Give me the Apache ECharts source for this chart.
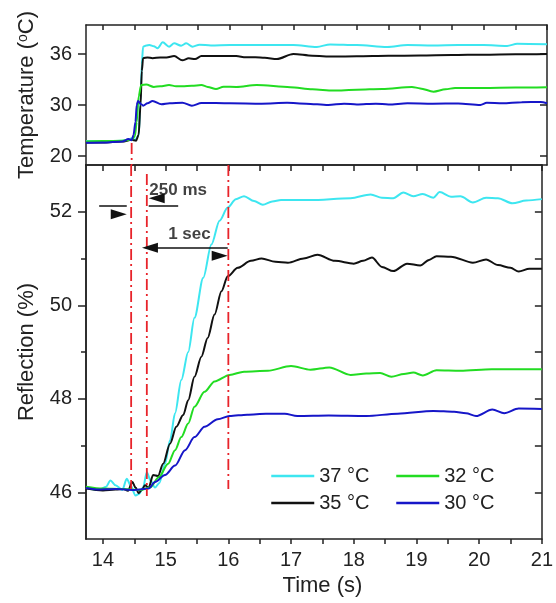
<!DOCTYPE html>
<html>
<head>
<meta charset="utf-8">
<script src="https://cdn.jsdelivr.net/npm/echarts@6/dist/echarts.min.js"></script>
<style>
  html, body { margin: 0; padding: 0; background: #fff; }
  #chart { width: 556px; height: 603px; }
</style>
</head>
<body>
<div id="chart"></div>
<script>
// ---- data ----
const seriesNames = ['37 °C', '35 °C', '32 °C', '30 °C']
const seriesColors = ['#3de6f0', '#111111', '#22dc22', '#1616c8']

// time axis
const timeMin = 13.73
const timeMax = 21
const timeTicks = [14, 14.5, 15, 15.5, 16, 16.5, 17, 17.5, 18, 18.5, 19, 19.5, 20, 20.5, 21]
const timeLabels = [14, 15, 16, 17, 18, 19, 20, 21]

// temperature panel: the printed ticks 20 / 30 / 36 sit at equal spacing
const tempMin = 22.94
const tempMax = 39.41
const tempTickValues = [24, 30, 36]
const tempTickLabels = ['20', '30', '36']

// reflection panel
const reflMin = 45
const reflMax = 53
const reflMajor = [46, 48, 50, 52]
const reflMinor = [47, 49, 51]
const reflRight = [46, 47, 48, 49, 50, 51, 52]

// temperature curves  [time, value]
const temp37 = [[13.73,25.75],[14.0,25.72],[14.3,25.78],[14.4,25.9],[14.45,26.1],[14.5,25.9],[14.56,26.4],[14.59,30.5],[14.61,34.8],[14.63,36.86],[14.68,37.0],[14.73,37.06],[14.8,36.9],[14.86,36.67],[14.94,37.37],[15.04,36.86],[15.12,37.25],[15.23,36.98],[15.31,37.25],[15.41,36.86],[15.52,37.1],[15.7,37.0],[16.0,37.05],[16.5,37.05],[17.0,37.06],[17.37,36.83],[17.58,37.13],[18.0,37.05],[18.48,36.83],[18.8,37.05],[19.2,37.0],[19.6,37.05],[20.0,37.05],[20.37,36.95],[20.53,37.2],[21.0,37.14]]
const temp35 = [[13.73,25.6],[14.0,25.6],[14.3,25.7],[14.45,25.9],[14.52,25.8],[14.56,26.5],[14.59,30],[14.61,34],[14.63,35.5],[14.7,35.6],[14.78,35.5],[14.9,35.6],[15.0,35.6],[15.12,35.76],[15.25,35.25],[15.35,35.5],[15.45,35.4],[15.55,35.76],[15.8,35.76],[16.1,35.76],[16.25,35.61],[16.4,35.62],[16.55,35.55],[16.74,35.41],[17.0,36.0],[17.3,35.8],[17.63,35.69],[18.0,35.72],[18.5,35.78],[19.0,35.83],[19.5,35.88],[20.0,35.92],[20.5,35.96],[21.0,36.0]]
const temp32 = [[13.73,25.7],[14.0,25.75],[14.3,25.8],[14.45,25.9],[14.5,26.3],[14.53,28],[14.56,31],[14.6,32.35],[14.68,32.4],[14.8,32.13],[14.9,32.2],[15.04,32.35],[15.15,32.2],[15.25,32.2],[15.4,32.25],[15.55,32.35],[15.65,32.13],[15.78,31.88],[15.9,32.16],[16.1,32.13],[16.42,32.35],[16.95,32.1],[17.3,31.85],[17.63,31.69],[18.0,31.8],[18.4,31.88],[18.87,32.13],[19.0,31.95],[19.21,31.57],[19.4,31.85],[19.55,32.0],[20.0,32.0],[20.5,32.05],[21.0,32.1]]
const temp30 = [[13.73,25.55],[14.0,25.58],[14.3,25.7],[14.4,26.0],[14.45,25.85],[14.48,26.5],[14.51,28],[14.53,30.0],[14.55,30.47],[14.6,30.1],[14.63,29.92],[14.7,30.2],[14.78,30.47],[14.92,30.08],[15.05,30.2],[15.25,30.27],[15.4,29.92],[15.55,30.24],[16.0,30.2],[16.5,30.16],[16.9,30.25],[17.2,30.16],[17.55,30.0],[17.8,30.16],[18.0,30.05],[18.3,30.16],[18.5,30.05],[18.8,30.2],[19.2,30.16],[19.6,30.18],[19.95,30.0],[20.05,30.25],[20.3,30.2],[20.6,30.33],[20.9,30.35],[21.0,30.2]]

// reflection curves  [time, %]
const refl37 = [[13.73,46.1],[13.85,46.06],[13.94,46.05],[14.05,46.12],[14.12,46.25],[14.2,46.15],[14.31,46.05],[14.38,46.29],[14.44,46.15],[14.52,45.93],[14.58,45.97],[14.64,46.1],[14.7,46.43],[14.76,46.25],[14.83,46.1],[14.9,46.2],[14.99,46.61],[15.07,47.11],[15.15,47.69],[15.25,48.4],[15.36,49.0],[15.46,49.73],[15.6,50.59],[15.73,51.3],[15.86,51.81],[15.99,52.09],[16.12,52.27],[16.25,52.33],[16.41,52.23],[16.55,52.15],[16.7,52.22],[16.84,52.25],[17.3,52.25],[17.95,52.29],[18.27,52.37],[18.45,52.3],[18.63,52.29],[18.79,52.41],[18.95,52.33],[19.1,52.38],[19.27,52.3],[19.37,52.42],[19.55,52.32],[19.7,52.33],[19.9,52.2],[20.11,52.3],[20.3,52.29],[20.53,52.18],[20.75,52.24],[21.0,52.27]]
const refl35 = [[13.73,46.08],[14.0,46.04],[14.2,46.06],[14.33,46.07],[14.4,46.03],[14.47,46.22],[14.52,46.1],[14.57,45.98],[14.62,46.05],[14.67,46.15],[14.73,46.1],[14.8,46.37],[14.88,46.35],[14.96,46.61],[15.07,47.04],[15.17,47.4],[15.28,47.65],[15.36,47.97],[15.46,48.47],[15.57,48.9],[15.67,49.3],[15.78,49.8],[15.89,50.3],[15.99,50.62],[16.15,50.8],[16.36,50.95],[16.53,51.0],[16.75,50.93],[16.95,50.91],[17.2,51.0],[17.42,51.08],[17.7,50.95],[18.0,50.89],[18.15,50.95],[18.29,51.02],[18.45,50.82],[18.63,50.73],[18.85,50.89],[19.06,50.85],[19.2,50.97],[19.32,51.05],[19.55,51.04],[19.9,50.91],[20.11,50.98],[20.3,50.86],[20.5,50.8],[20.63,50.72],[20.8,50.78],[21.0,50.78]]
const refl32 = [[13.73,46.12],[14.0,46.08],[14.3,46.07],[14.6,46.05],[14.75,46.1],[14.89,46.32],[15.04,46.61],[15.15,46.9],[15.25,47.18],[15.36,47.47],[15.46,47.83],[15.62,48.15],[15.78,48.37],[16.02,48.51],[16.25,48.58],[16.63,48.6],[17.0,48.7],[17.31,48.62],[17.61,48.67],[17.95,48.51],[18.2,48.54],[18.42,48.55],[18.6,48.47],[18.8,48.53],[18.95,48.56],[19.1,48.5],[19.32,48.61],[19.7,48.6],[20.2,48.63],[21.0,48.63]]
const refl30 = [[13.73,46.09],[13.9,46.06],[14.2,46.07],[14.5,46.05],[14.73,46.08],[14.83,46.22],[14.99,46.37],[15.15,46.57],[15.31,46.9],[15.46,47.18],[15.62,47.4],[15.83,47.56],[16.02,47.63],[16.3,47.66],[16.6,47.68],[16.9,47.68],[17.1,47.63],[17.6,47.64],[18.2,47.63],[18.7,47.68],[19.27,47.74],[19.6,47.72],[19.79,47.69],[19.95,47.63],[20.21,47.77],[20.4,47.69],[20.63,47.79],[21.0,47.78]]

// red dash-dot guide lines
const markerTimes = [14.45, 14.7, 16.0]
const markerTempTop = 25.53           // only the first one reaches into the temperature panel
const markerReflTop = [53, 52.81, 53]
const markerReflEnd = [46.07, 45.92, 46.07]

// arrows (tail, tip) and labels in reflection-panel units
const arrowsY = [52.12, 52.12, 51.23]
const arrowsFrom = [13.94, 15.2, 14.75]
const arrowsTo = [14.38, 14.73, 15.99]
const noteTexts = ['250 ms', '1 sec']
const notePos = [[15.2, 52.45], [15.38, 51.52]]

const font = "'Liberation Sans', Arial, sans-serif"
const ink = '#222'

const chart = echarts.init(document.getElementById('chart'))

function curve(name, color, data, xi, yi) {
  return {
    name, type: 'line', data, xAxisIndex: xi, yAxisIndex: yi,
    symbol: 'none', smooth: 0.3, smoothMonotone: 'x',
    lineStyle: { color, width: 2 }, itemStyle: { color },
    silent: true, z: 3,
  }
}

function redLine(pts, xi, yi) {
  return {
    type: 'line', data: pts, xAxisIndex: xi, yAxisIndex: yi, symbol: 'none', silent: true, z: 4,
    lineStyle: { color: '#e8232a', width: 1.8, type: [11, 4, 2, 4] },
  }
}

function xAx(grid, position, opts) {
  return Object.assign({
    type: 'value', gridIndex: grid, position, min: timeMin, max: timeMax,
    splitLine: { show: false },
    axisLine: { onZero: false, lineStyle: { color: ink, width: 1.5 } },
    axisTick: { show: false },
    axisLabel: { show: false },
  }, opts)
}

function yAx(grid, position, min, max, opts) {
  return Object.assign({
    type: 'value', gridIndex: grid, position, min, max,
    splitLine: { show: false },
    axisLine: { onZero: false, lineStyle: { color: ink, width: 1.5 } },
    axisTick: { show: false },
    axisLabel: { show: false },
  }, opts)
}

const tickStyle = { color: ink, width: 1.5 }
const labelStyle = { color: ink, fontSize: 20, fontFamily: font }

const series = []
const temps = [temp37, temp35, temp32, temp30]
const refls = [refl37, refl35, refl32, refl30]
seriesNames.forEach((n, i) => series.push(curve(n, seriesColors[i], temps[i], 1, 0)))
seriesNames.forEach((n, i) => series.push(curve(n, seriesColors[i], refls[i], 3, 2)))

series.push(redLine([[markerTimes[0], markerTempTop], [markerTimes[0], tempMin]], 1, 0))
markerTimes.forEach((t, i) => {
  series.push(redLine([[t, markerReflTop[i]], [t, markerReflEnd[i]]], 3, 2))
})

// arrows
series.push({
  type: 'line', data: [], xAxisIndex: 3, yAxisIndex: 2, silent: true,
  markLine: {
    silent: true, animation: false,
    symbol: ['none', 'triangle'], symbolSize: [10, 16], symbolOffset: [0, 8],
    lineStyle: { color: '#111', width: 1.5, type: 'solid' },
    label: { show: false },
    data: arrowsY.map((y, i) => [
      { coord: [arrowsFrom[i], y], symbol: i === 2 ? 'triangle' : 'none' },
      { coord: [arrowsTo[i], y] },
    ]),
  },
})

// annotation text
series.push({
  type: 'scatter', xAxisIndex: 3, yAxisIndex: 2, silent: true, symbolSize: 1,
  itemStyle: { color: 'rgba(0,0,0,0)' },
  data: notePos.map((p, i) => ({ value: p, label: { formatter: noteTexts[i] } })),
  label: { show: true, position: 'inside', fontSize: 17, fontWeight: 'bold', color: '#111', fontFamily: font },
})

const legendBase = {
  orient: 'vertical', top: 466, padding: 0, itemWidth: 43, itemHeight: 14, itemGap: 7,
  selectedMode: false,
  itemStyle: { opacity: 0 },
  lineStyle: { width: 2.5 },
  textStyle: { fontSize: 20, color: ink, fontFamily: font },
}

chart.setOption({
  animation: false,
  backgroundColor: '#fff',
  textStyle: { fontFamily: font },
  grid: [
    { left: 86, right: 9, top: 25, height: 140 },
    { left: 86, right: 9, top: 165, height: 374 },
  ],
  legend: [
    Object.assign({}, legendBase, { left: 270, data: [seriesNames[0], seriesNames[1]] }),
    Object.assign({}, legendBase, { left: 395, data: [seriesNames[2], seriesNames[3]] }),
  ],
  xAxis: [
    xAx(0, 'top', { axisTick: { show: true, inside: true, length: 5, customValues: timeTicks, lineStyle: tickStyle } }),
    xAx(0, 'bottom'),
    xAx(1, 'top', { axisTick: { show: true, inside: true, length: 6, customValues: timeTicks, lineStyle: tickStyle } }),
    xAx(1, 'bottom', {
      name: 'Time (s)', nameLocation: 'middle', nameGap: 32,
      nameTextStyle: { fontSize: 22, color: ink, fontFamily: font, padding: [0, 0, 0, 17] },
      axisTick: { show: true, length: 5, customValues: timeTicks, lineStyle: tickStyle },
      axisLabel: Object.assign({ show: true, margin: 11, customValues: timeLabels }, labelStyle),
    }),
  ],
  yAxis: [
    yAx(0, 'left', tempMin, tempMax, {
      name: 'Temperature ({sup|o}C)', nameLocation: 'middle', nameGap: 48, nameRotate: 90,
      nameTextStyle: {
        fontSize: 22, color: ink, fontFamily: font,
        rich: { sup: { fontSize: 14, color: ink, fontFamily: font, verticalAlign: 'top', padding: [0, 0, 8, 0] } },
      },
      axisTick: { show: true, length: 8, customValues: tempTickValues, lineStyle: tickStyle },
      axisLabel: Object.assign({
        show: true, margin: 14, customValues: tempTickValues,
        formatter: (v) => tempTickLabels[tempTickValues.indexOf(v)],
      }, labelStyle),
    }),
    yAx(0, 'right', tempMin, tempMax, {
      axisTick: { show: true, inside: true, length: 7, customValues: tempTickValues, lineStyle: tickStyle },
    }),
    yAx(1, 'left', reflMin, reflMax, {
      name: 'Reflection (%)', nameLocation: 'middle', nameGap: 48, nameRotate: 90,
      nameTextStyle: { fontSize: 22, color: ink, fontFamily: font },
      axisTick: { show: true, length: 8, customValues: reflMajor, lineStyle: tickStyle },
      axisLabel: Object.assign({ show: true, margin: 14, customValues: reflMajor }, labelStyle),
    }),
    yAx(1, 'left', reflMin, reflMax, {
      axisTick: { show: true, length: 5, customValues: reflMinor, lineStyle: tickStyle },
    }),
    yAx(1, 'right', reflMin, reflMax, {
      axisTick: { show: true, inside: true, length: 7, customValues: reflRight, lineStyle: tickStyle },
    }),
  ],
  series,
})
</script>
</body>
</html>
